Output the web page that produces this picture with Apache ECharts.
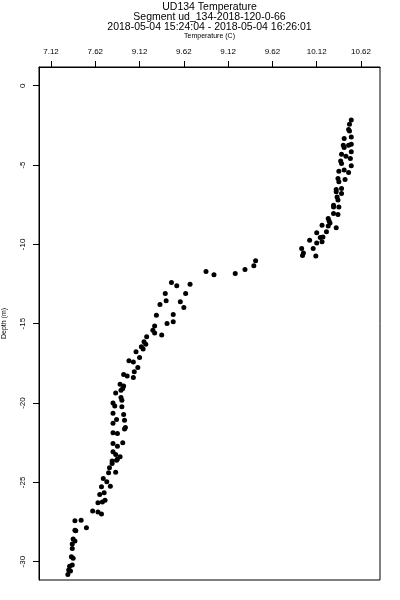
<!DOCTYPE html>
<html>
<head>
<meta charset="utf-8">
<script src="https://cdn.jsdelivr.net/npm/echarts@6/dist/echarts.min.js"></script>
<style>html,body{margin:0;padding:0;background:#fff}#c{width:400px;height:600px}</style>
</head>
<body>
<div id="c"></div>
<script>
var titleLines = ["UD134 Temperature", "Segment ud_134-2018-120-0-66", "2018-05-04 15:24:04 - 2018-05-04 16:26:01"];
var xTickValues = [7.12, 7.62, 8.12, 8.62, 9.12, 9.62, 10.12, 10.62];
var xTickLabels = ["7.12", "7.62", "9.12", "9.62", "9.12", "9.62", "10.12", "10.62"];
var yTickValues = [0, -5, -10, -15, -20, -25, -30];
var yTickLabels = ["0", "-5", "-10", "-15", "-20", "-25", "-30"];
var temperature = [
10.51,10.49,10.48,10.49,10.51,10.43,10.42,10.43,10.48,10.51,
10.51,10.40,10.45,10.50,10.39,10.40,10.51,10.43,10.37,10.48,
10.36,10.37,10.44,10.34,10.34,10.40,10.40,10.35,10.36,10.31,
10.31,10.37,10.31,10.36,10.25,10.26,10.27,10.25,10.18,10.34,
10.23,10.12,10.19,10.16,10.04,10.12,10.18,10.08,9.95,9.97,
9.96,10.11,
8.64,8.69,8.87,8.96,9.20,9.31,9.41,9.43,
8.48,8.54,8.41,8.42,8.35,8.58,8.62,8.31,8.50,8.43,
8.50,8.29,8.27,8.29,8.37,8.20,8.17,8.19,8.14,8.16,
8.08,8.12,8.00,8.05,8.10,8.06,7.94,7.98,8.05,7.90,
7.94,7.93,7.91,7.85,7.91,7.92,7.82,7.84,7.92,7.82,
7.94,7.86,7.95,7.82,7.96,7.95,7.82,7.87,7.82,7.87,
7.93,7.82,7.85,7.90,7.87,7.81,7.81,7.78,7.86,7.77,
7.85,7.71,7.75,7.69,7.79,7.67,7.72,7.65,7.70,7.73,
7.59,7.65,7.69,7.39,7.46,7.52,7.39,7.40,7.37,7.39,
7.36,7.36,7.35,7.37,7.33,7.36,7.32,7.34,7.31
];
var depth = [
-2.17,-2.43,-2.76,-2.85,-3.23,-3.33,-3.75,-3.89,-3.75,-3.69,
-4.17,-4.32,-4.44,-4.59,-4.74,-4.90,-5.05,-5.32,-5.39,-5.47,
-5.85,-6.06,-5.91,-6.54,-6.69,-6.48,-6.79,-7.01,-7.21,-7.53,
-7.64,-7.64,-8.05,-8.12,-8.37,-8.52,-8.65,-8.85,-8.79,-8.96,
-9.21,-9.27,-9.53,-9.56,-9.74,-9.91,-9.84,-10.26,-10.26,-10.54,
-10.70,-10.74,
-13.09,-12.51,-11.71,-11.92,-11.83,-11.58,-11.35,-11.04,
-12.40,-12.61,-13.09,-13.56,-13.79,-13.62,-13.98,-14.46,-14.42,-14.98,
-14.88,-15.15,-15.41,-15.58,-15.72,-15.83,-16.14,-16.29,-16.46,-16.60,
-16.77,-17.13,-17.34,-17.42,-17.76,-18.03,-18.20,-18.30,-18.39,-18.81,
-18.93,-19.08,-19.19,-19.36,-19.65,-19.82,-19.99,-20.19,-20.24,-20.65,
-20.72,-21.03,-21.08,-21.28,-21.54,-21.64,-21.88,-21.92,-22.55,-22.72,
-22.51,-23.07,-23.24,-23.39,-23.53,-23.66,-23.81,-24.08,-23.60,-24.40,
-24.37,-24.75,-24.96,-25.28,-25.24,-25.76,-25.66,-26.29,-26.23,-26.12,
-26.81,-26.86,-27.00,-27.42,-27.38,-27.86,-28.01,-28.05,-28.57,-28.70,
-28.89,-29.16,-29.69,-29.79,-30.28,-30.21,-30.53,-30.59,-30.80
];

var points = temperature.map(function (t, i) { return [t, depth[i]]; });
var FONT = "'Liberation Sans', Arial, Helvetica, sans-serif";

function lookup(vals, labels, v) {
  for (var i = 0; i < vals.length; i++) {
    if (Math.abs(vals[i] - v) < 1e-6) return labels[i];
  }
  return '';
}

var chart = echarts.init(document.getElementById('c'), null, { renderer: 'canvas' });
chart.setOption({
  animation: false,
  backgroundColor: '#ffffff',
  title: titleLines.map(function (t, i) {
    return {
      text: t,
      left: 209.5,
      top: 2 + i * 10,
      textAlign: 'center',
      padding: 0,
      textStyle: { fontFamily: FONT, fontSize: 10.5, fontWeight: 'normal', color: '#000' }
    };
  }),
  grid: {
    left: 39, right: 20, top: 67, bottom: 20,
    show: true, borderColor: '#000', borderWidth: 1, backgroundColor: 'transparent',
    containLabel: false,
    outerBoundsMode: 'none'
  },
  xAxis: {
    type: 'value',
    position: 'top',
    min: 6.9845,
    max: 10.8345,
    name: 'Temperature (C)',
    nameLocation: 'middle',
    nameGap: 27,
    nameTextStyle: { fontFamily: FONT, fontSize: 7, color: '#000' },
    axisLine: { show: true, onZero: false, lineStyle: { color: '#000', width: 1 } },
    axisTick: { show: true, length: 6, inside: false, customValues: xTickValues, lineStyle: { color: '#000' } },
    axisLabel: {
      show: true, margin: 11, fontFamily: FONT, fontSize: 8, color: '#000',
      customValues: xTickValues,
      formatter: function (v) { return lookup(xTickValues, xTickLabels, v); }
    },
    splitLine: { show: false }
  },
  yAxis: {
    type: 'value',
    min: -31.153,
    max: 1.178,
    name: 'Depth (m)',
    nameLocation: 'middle',
    nameGap: 31,
    nameRotate: 90,
    nameTextStyle: { fontFamily: FONT, fontSize: 7, color: '#000' },
    axisLine: { show: true, onZero: false, lineStyle: { color: '#000', width: 1 } },
    axisTick: { show: true, length: 6, inside: false, customValues: yTickValues, lineStyle: { color: '#000' } },
    axisLabel: {
      show: true, margin: 12, rotate: 90, fontFamily: FONT, fontSize: 8, color: '#000',
      customValues: yTickValues,
      formatter: function (v) { return lookup(yTickValues, yTickLabels, v); }
    },
    splitLine: { show: false }
  },
  series: [{
    type: 'scatter',
    data: points,
    symbol: 'circle',
    symbolSize: 5,
    itemStyle: { color: '#000', opacity: 1 },
    silent: true
  }]
});
</script>
</body>
</html>
